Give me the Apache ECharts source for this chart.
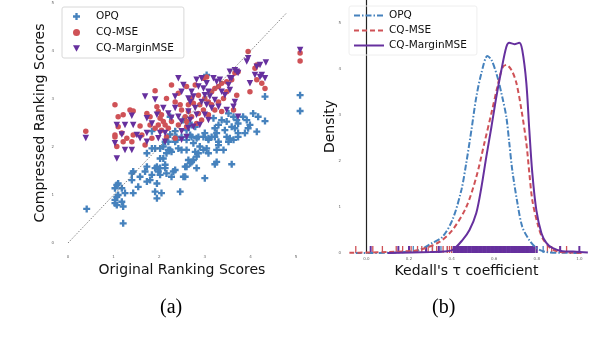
<!DOCTYPE html>
<html>
<head>
<meta charset="utf-8">
<script src="https://cdn.jsdelivr.net/npm/echarts@6/dist/echarts.min.js"></script>
<style>
  html, body { margin: 0; padding: 0; background: #fff; }
  #wrap { position: relative; width: 604px; height: 354px; }
  #chartA { position: absolute; left: 0; top: 0; width: 312px; height: 354px; }
  #chartB { position: absolute; left: 300px; top: 0; width: 304px; height: 354px; }
</style>
</head>
<body>
<div id="wrap">
  <div id="chartA"></div>
  <div id="chartB"></div>
</div>
<script>
// ---- data: panel (a), [original score, compressed score]
const opqScores = [
  [0.41,0.71],[1.21,0.41],[1.03,1.14],[1.07,1.21],[1.10,1.24],[1.18,1.14],[1.03,0.90],[1.07,0.96],
  [1.10,1.00],[1.03,0.83],[1.07,0.79],[1.18,0.86],[1.21,0.76],[1.25,1.04],[1.40,1.45],[1.43,1.49],
  [1.40,1.31],[1.43,1.04],[1.54,1.17],[1.58,1.38],[1.69,1.49],[1.73,1.59],[1.73,1.28],[1.80,1.31],
  [1.84,1.42],[1.91,1.56],[1.95,1.59],[1.95,1.24],[1.91,1.07],[1.95,0.93],[1.98,1.49],[2.02,1.42],
  [2.02,1.76],[2.09,1.76],[2.13,1.56],[2.16,1.45],[2.13,1.63],[2.02,1.97],[1.91,1.97],[2.24,1.94],
  [2.27,1.90],[2.31,1.49],[2.35,1.52],[2.27,1.38],[2.20,2.11],[2.35,2.11],[2.38,2.15],[2.42,1.97],
  [2.49,1.94],[2.46,1.07],[2.57,1.59],[2.53,1.38],[2.02,1.56],[2.05,1.04],[2.71,2.21],[2.82,2.18],
  [2.97,2.21],[3.08,2.15],[3.22,2.21],[3.30,2.11],[3.48,2.21],[3.52,2.11],[3.63,2.15],[3.73,2.21],
  [2.75,2.08],[2.89,2.01],[2.97,1.94],[3.04,1.97],[3.08,1.87],[2.86,1.87],[2.79,1.90],[2.82,1.80],
  [3.26,1.94],[3.30,2.04],[3.41,1.94],[2.60,1.94],[2.64,1.73],[2.71,1.69],[2.75,1.73],[2.68,1.66],
  [2.60,1.59],[2.82,1.56],[3.26,1.69],[3.22,1.64],[3.59,1.64],[3.00,1.35],[2.57,1.38],[3.04,3.50],
  [4.32,3.05],[5.09,3.08],[5.09,2.75],[4.06,2.70],[4.17,2.63],[4.32,2.54],[3.84,2.63],[3.92,2.56],
  [3.52,2.70],[3.63,2.63],[3.70,2.56],[3.73,2.49],[3.48,2.53],[3.59,2.42],[3.99,2.46],[3.95,2.39],
  [4.14,2.32],[3.88,2.29],[3.73,2.29],[3.66,2.39],[3.37,2.56],[3.30,2.46],[3.44,2.35],[3.19,2.60],
  [3.22,2.39],[3.26,2.29],[3.15,2.21],[2.71,2.46],[2.79,2.42],[2.68,2.25],[2.60,2.35],[3.00,2.29],
  [3.08,2.18],[2.86,2.21],[3.55,2.18],[2.35,2.18],[2.49,2.21],[2.60,2.15],[2.13,2.11],[1.84,1.97],
  [1.84,2.33],[2.35,2.33],[2.24,2.26],[2.38,2.21],[2.64,2.49],[1.73,1.87],[2.16,1.87],[2.20,1.94],
  [2.09,2.01],[2.24,2.63],[2.52,2.56]
];
const mseScores = [
  [0.39,2.33],[1.03,2.88],[1.10,2.63],[1.21,2.67],[1.36,2.77],[1.43,2.75],[1.10,2.42],[1.18,2.29],
  [1.29,2.18],[1.03,2.25],[1.58,2.44],[1.73,2.70],[1.80,2.63],[1.91,3.17],[1.95,2.84],[1.98,2.74],
  [2.05,2.67],[2.02,2.60],[2.09,2.53],[1.98,2.46],[2.13,2.46],[1.91,2.39],[2.05,2.35],[2.20,2.39],
  [2.16,3.01],[2.27,3.29],[2.35,2.94],[2.46,2.88],[2.49,2.77],[2.57,2.63],[2.27,2.53],[2.42,2.46],
  [2.60,2.42],[1.80,2.46],[1.62,2.25],[1.43,2.25],[1.84,2.18],[2.64,2.88],[2.42,3.12],[3.95,3.99],
  [2.60,3.26],[2.97,3.43],[3.04,3.46],[2.79,3.29],[3.22,3.22],[3.30,3.26],[3.37,3.33],[3.48,3.36],
  [3.59,3.40],[3.66,3.54],[3.73,3.57],[4.10,3.64],[4.14,3.40],[4.25,3.33],[4.32,3.22],[3.99,3.15],
  [3.70,3.08],[3.48,3.15],[3.15,3.15],[2.86,3.08],[2.71,3.01],[2.75,2.91],[3.00,3.01],[3.08,2.94],
  [3.15,2.88],[3.30,2.94],[3.41,3.01],[2.89,2.88],[2.97,2.77],[2.86,2.70],[3.22,2.77],[3.37,2.74],
  [2.64,2.74],[2.71,2.63],[2.93,2.56],[2.82,2.49],[3.08,2.67],[2.60,2.53],[5.09,3.79],[5.09,3.96],
  [3.63,2.77],[4.14,3.71],[1.03,2.21],[1.21,2.11],[1.07,2.01],[1.40,2.11],[1.69,2.04],[2.16,2.21],
  [2.35,2.18]
];
const marginScores = [
  [0.39,2.19],[1.07,1.76],[1.69,3.05],[1.91,2.99],[1.40,2.65],[2.42,3.43],[2.53,3.29],[2.49,3.15],
  [2.35,3.05],[1.07,2.46],[1.18,2.26],[1.43,2.46],[1.73,2.60],[1.84,2.49],[2.09,2.81],[2.20,2.70],
  [2.27,2.61],[2.35,2.81],[2.42,2.63],[2.49,2.53],[1.95,2.67],[2.02,2.29],[2.13,2.29],[1.73,2.29],
  [1.51,2.25],[2.64,3.01],[2.64,2.74],[2.49,2.33],[2.64,2.39],[2.82,3.40],[2.93,3.43],[3.55,3.43],
  [3.70,3.57],[4.25,3.50],[4.34,3.76],[5.09,4.02],[3.92,3.78],[3.95,3.85],[4.14,3.67],[4.21,3.71],
  [3.66,3.60],[3.73,3.54],[4.10,3.50],[4.21,3.46],[4.32,3.43],[3.99,3.33],[3.55,3.57],[3.59,3.43],
  [3.52,3.29],[3.55,3.19],[3.19,3.43],[3.26,3.36],[3.33,3.40],[3.04,3.33],[2.86,3.26],[2.97,3.22],
  [3.08,3.15],[2.71,3.15],[2.75,3.05],[2.68,2.94],[3.00,3.08],[3.11,3.05],[3.22,2.98],[3.37,3.15],
  [3.44,3.08],[2.93,2.94],[3.04,2.88],[3.15,2.81],[2.79,2.81],[2.82,2.67],[3.30,2.84],[3.00,2.67],
  [3.08,2.56],[2.68,2.56],[2.75,2.42],[2.89,2.46],[2.60,2.21],[3.63,2.84],[3.66,2.94],[3.48,2.77],
  [3.73,2.63],[1.03,2.08],[1.25,1.94],[1.40,1.94],[1.58,2.18],[1.73,2.11],[1.98,2.18],[2.13,2.11],
  [2.49,2.15],[1.25,2.46]
];
const diagonal = [[0, 0], [4.8, 4.8]];
const scoreTickLabels = ['0', '1', '2', '3', '4', '5'];

// ---- data: panel (b), [tau, density]
const opqDensity = [
  [-0.05,0],[0.10,0.005],[0.20,0.03],[0.249,0.065],[0.31,0.22],[0.357,0.35],[0.404,0.72],[0.446,1.37],
  [0.469,1.96],[0.493,2.67],[0.516,3.39],[0.54,3.91],[0.568,4.28],[0.587,4.2],[0.615,3.83],[0.638,3.39],
  [0.657,2.96],[0.671,2.39],[0.685,1.8],[0.709,1.09],[0.732,0.57],[0.765,0.28],[0.798,0.11],[0.845,0.02],
  [0.92,0.005],[1.0,0]
];
const mseDensity = [
  [-0.08,0.005],[0.0,0.01],[0.1,0.02],[0.2,0.04],[0.249,0.065],[0.343,0.24],[0.404,0.5],[0.469,1.0],
  [0.516,1.65],[0.554,2.39],[0.587,3.04],[0.615,3.61],[0.638,4.02],[0.657,4.09],[0.681,3.98],[0.704,3.7],
  [0.728,3.11],[0.751,2.39],[0.765,1.74],[0.779,1.15],[0.803,0.65],[0.826,0.33],[0.859,0.13],[0.892,0.04],
  [0.95,0.01],[1.02,0]
];
const marginDensity = [
  [0.10,0],[0.30,0.02],[0.36,0.03],[0.404,0.065],[0.451,0.28],[0.484,0.5],[0.516,0.87],[0.54,1.43],
  [0.563,2.09],[0.587,2.74],[0.61,3.39],[0.634,3.98],[0.657,4.48],[0.671,4.57],[0.695,4.54],[0.718,4.57],
  [0.732,4.41],[0.751,3.7],[0.765,2.67],[0.779,1.74],[0.798,0.93],[0.822,0.43],[0.845,0.22],[0.873,0.11],
  [0.92,0.04],[0.97,0.03],[1.04,0.01]
];
const opqRug = [
  0.22,0.28,0.31,0.35,0.38,0.40,0.42,0.44,0.46,0.47,0.48,0.50,0.51,0.52,0.53,0.54,0.55,0.56,0.57,0.58,
  0.59,0.60,0.61,0.62,0.63,0.65,0.67,0.69,0.72,0.75,0.79,0.83
];
const mseRug = [
  -0.05,0.03,0.075,0.14,0.17,0.21,0.24,0.26,0.29,0.31,0.33,0.36,0.38,0.39,0.40,0.42,0.43,0.44,0.45,0.46,
  0.48,0.50,0.52,0.55,0.58,0.61,0.64,0.67,0.70,0.73,0.76,0.79,0.85,0.87,0.91,0.94
];
const marginRug = [
  0.02,0.15,0.20,0.28,0.34,0.41,0.415,0.42,0.427,0.433,0.44,0.446,0.452,0.458,0.465,0.471,0.478,0.484,
  0.49,0.497,0.503,0.51,0.516,0.522,0.529,0.535,0.541,0.548,0.554,0.56,0.567,0.573,0.579,0.586,0.592,
  0.598,0.605,0.611,0.617,0.624,0.63,0.636,0.643,0.649,0.655,0.662,0.668,0.674,0.681,0.687,0.693,0.70,
  0.706,0.712,0.719,0.725,0.731,0.738,0.744,0.75,0.757,0.763,0.769,0.776,0.782,0.788,0.80,0.91,1.0
];
const tauTicks = ['0.0', '0.2', '0.4', '0.6', '0.8', '1.0'];
const densityTicks = ['0', '1', '2', '3', '4', '5'];

const BLUE = '#4682bd';
const RED = '#cf5257';
const PURPLE = '#66309e';
const FONT = 'DejaVu Sans';
const plusPath = 'path://M2,0H4V2H6V4H4V6H2V4H0V2H2Z';
const downTriangle = 'path://M0,0H2L1,1.8Z';

const tinyLabel = { fontSize: 4, color: '#666', fontFamily: FONT };
const nameStyle = { fontSize: 14, color: '#111', fontFamily: FONT };

// ---- panel (a): scatter
const chartA = echarts.init(document.getElementById('chartA'));
chartA.setOption({
  animation: false,
  grid: { left: 68, top: 3, width: 228, height: 240 },
  xAxis: {
    type: 'value', min: 0, max: 5, interval: 1,
    name: 'Original Ranking Scores', nameLocation: 'middle', nameGap: 20, nameMoveOverlap: false,
    nameTextStyle: nameStyle,
    axisLine: { show: false }, axisTick: { show: false }, splitLine: { show: false },
    axisLabel: { ...tinyLabel, margin: 12, formatter: (v) => scoreTickLabels[Math.round(v)] }
  },
  yAxis: {
    type: 'value', min: 0, max: 5, interval: 1,
    name: 'Compressed Ranking Scores', nameLocation: 'middle', nameGap: 21, nameMoveOverlap: false,
    nameTextStyle: nameStyle,
    axisLine: { show: false }, axisTick: { show: false }, splitLine: { show: false },
    axisLabel: { ...tinyLabel, margin: 14, formatter: (v) => scoreTickLabels[Math.round(v)] }
  },
  legend: {
    orient: 'vertical', left: 62, top: 7,
    itemWidth: 7, itemHeight: 7, itemGap: 5,
    padding: [4, 10, 4, 11],
    borderColor: '#d8d8d8', borderWidth: 1, borderRadius: 2,
    textStyle: { fontSize: 10.5, color: '#111', fontFamily: FONT, padding: [0, 0, 0, 11] },
    data: ['OPQ', 'CQ-MSE', { name: 'CQ-MarginMSE', icon: downTriangle }]
  },
  series: [
    {
      type: 'line', data: diagonal, symbol: 'none', silent: true,
      lineStyle: { color: '#666', width: 0.8, type: [1.5, 1.5] }
    },
    {
      name: 'OPQ', type: 'scatter', data: opqScores, clip: false,
      symbol: plusPath, symbolSize: 7, itemStyle: { color: BLUE, opacity: 1 }
    },
    {
      name: 'CQ-MSE', type: 'scatter', data: mseScores, clip: false,
      symbol: 'circle', symbolSize: 5.5, itemStyle: { color: RED, opacity: 1 }
    },
    {
      name: 'CQ-MarginMSE', type: 'scatter', data: marginScores, clip: false,
      symbol: downTriangle, symbolSize: 6.5, itemStyle: { color: PURPLE, opacity: 1 }
    }
  ],
  graphic: [
    {
      type: 'text', left: 160, top: 298,
      style: { text: '(a)', fontSize: 20, fontFamily: 'Liberation Serif', fill: '#000' }
    }
  ]
});

// ---- panel (b): density with rug
const rug = (name, values, color, width) => ({
  name, type: 'scatter', clip: false, silent: true,
  data: values.map((v) => [v, 0]),
  symbol: 'rect', symbolSize: [width, 7], symbolOffset: [0, -3.5],
  itemStyle: { color, opacity: 1 }
});

const chartB = echarts.init(document.getElementById('chartB'));
chartB.setOption({
  animation: false,
  grid: { left: 43, top: 0, right: 14, bottom: 101 },
  xAxis: {
    type: 'value', min: -0.11, max: 1.05,
    name: "Kedall's τ coefficient", nameLocation: 'middle', nameGap: 11, nameMoveOverlap: false,
    nameTextStyle: nameStyle,
    axisLine: { show: false }, axisTick: { show: false }, splitLine: { show: false },
    axisLabel: {
      ...tinyLabel, margin: 4,
      customValues: [0, 0.2, 0.4, 0.6, 0.8, 1.0],
      formatter: (v) => tauTicks[Math.round(v * 5)]
    }
  },
  yAxis: {
    type: 'value', min: 0, max: 5.5, interval: 1,
    name: 'Density', nameLocation: 'middle', nameGap: 6, nameMoveOverlap: false,
    nameTextStyle: nameStyle,
    axisLine: { show: true, lineStyle: { color: '#222', width: 1.2 } },
    axisTick: { show: false }, splitLine: { show: false },
    axisLabel: { ...tinyLabel, margin: 2, formatter: (v) => densityTicks[Math.round(v)] || '' }
  },
  legend: {
    orient: 'vertical', left: 49, top: 6,
    itemWidth: 30, itemHeight: 8, itemGap: 4,
    padding: [4, 10, 4, 4],
    borderColor: '#eeeeee', borderWidth: 1, borderRadius: 2,
    itemStyle: { opacity: 0 },
    textStyle: { fontSize: 10.5, color: '#111', fontFamily: FONT },
    data: ['OPQ', 'CQ-MSE', 'CQ-MarginMSE']
  },
  series: [
    rug('opq-rug', opqRug, BLUE, 1.3),
    rug('mse-rug', mseRug, RED, 1.3),
    rug('margin-rug', marginRug, PURPLE, 2),
    {
      name: 'OPQ', type: 'line', data: opqDensity, smooth: 0.3, symbol: 'none',
      lineStyle: { color: BLUE, width: 2, type: [6, 2, 1.5, 2] }, itemStyle: { color: BLUE }
    },
    {
      name: 'CQ-MSE', type: 'line', data: mseDensity, smooth: 0.3, symbol: 'none',
      lineStyle: { color: RED, width: 2, type: [5, 3] }, itemStyle: { color: RED }
    },
    {
      name: 'CQ-MarginMSE', type: 'line', data: marginDensity, smooth: 0.3, symbol: 'none',
      lineStyle: { color: PURPLE, width: 2 }, itemStyle: { color: PURPLE }
    }
  ],
  graphic: [
    {
      type: 'text', left: 132, top: 298,
      style: { text: '(b)', fontSize: 20, fontFamily: 'Liberation Serif', fill: '#000' }
    }
  ]
});
</script>
</body>
</html>
